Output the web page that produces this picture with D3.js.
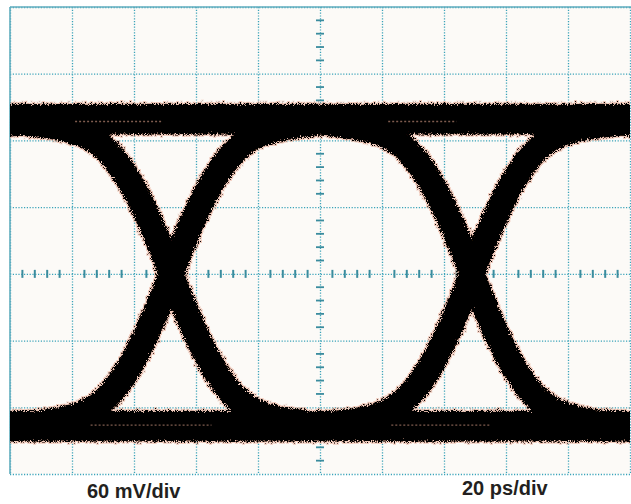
<!DOCTYPE html>
<html>
<head>
<meta charset="utf-8">
<script src="https://cdn.jsdelivr.net/npm/d3@7"></script>
<style>
body { margin: 0; background: #ffffff; }
</style>
</head>
<body>
<script>
// screen: 10 divisions of 20 ps, 60 mV per division
var timeTicks = [0, 20, 40, 60, 80, 100, 120, 140, 160, 180, 200];
var voltTicks = [-180, -120, -60, 0, 60, 120, 180, 240];
var unitLabels = ["60 mV/div", "20 ps/div"];

// eye crossings (ps)
var crossings = [-45, 52, 149, 246];

// edge shape around a crossing: time offset (ps) and level (mV)
var edgeTime    = [-55, -45, -35.5, -29, -24.2, -19.4, -16.1, -12.9, -9.7, -6.5, -3.2, 0, 3.2, 6.5, 9.7, 12.9, 16.1, 19.4, 24.2, 29, 35.5, 45, 55];
var risingEdge  = [-137, -135, -131, -126, -119, -107, -95, -81, -64, -45, -23, 0, 23, 45, 64, 81, 95, 107, 119, 126, 131, 135, 137];
var fallingEdge = [137, 135, 131, 126, 119, 107, 95, 81, 64, 45, 23, 0, -23, -45, -64, -81, -95, -107, -119, -126, -131, -135, -137];

// steady one / zero levels (mV)
var levelHigh = 139;
var levelLow = -137;

// faint streaks inside the level bands: start ps, end ps, mV
var streakStart = [21, 122, 26, 123];
var streakEnd   = [49, 144, 65, 155];
var streakLevel = [137, 137, -136, -136];

function createEyeDiagram(){
    var w = 631, h = 504;
    var left = 10, right = 630, top = 7, bottom = 474;

    var svg = d3.select("body")
                .append("svg")
                .attr("width", w)
                .attr("height", h);

    var x = d3.scaleLinear().domain([0, 200]).range([left, right]);
    var y = d3.scaleLinear().domain([-180, 240]).range([bottom, top]);

    var defs = svg.append("defs");
    defs.append("clipPath")
        .attr("id", "screen")
        .append("rect")
        .attr("x", left).attr("y", top)
        .attr("width", right - left).attr("height", bottom - top);

    // ragged, noisy look of the persistence traces
    var f = defs.append("filter")
                .attr("id", "rough")
                .attr("filterUnits", "userSpaceOnUse")
                .attr("x", 0).attr("y", 0).attr("width", w).attr("height", h);
    f.append("feTurbulence")
        .attr("type", "fractalNoise")
        .attr("baseFrequency", 1.3)
        .attr("numOctaves", 2)
        .attr("seed", 7)
        .attr("result", "noise");
    f.append("feDisplacementMap")
        .attr("in", "SourceGraphic").attr("in2", "noise")
        .attr("scale", 8)
        .attr("xChannelSelector", "R").attr("yChannelSelector", "G")
        .attr("result", "d");
    f.append("feMorphology")
        .attr("in", "d").attr("operator", "dilate").attr("radius", 1)
        .attr("result", "dd");
    f.append("feFlood")
        .attr("flood-color", "#e6a088").attr("flood-opacity", 0.5)
        .attr("result", "c");
    f.append("feComposite")
        .attr("in", "c").attr("in2", "dd").attr("operator", "in")
        .attr("result", "halo");
    var merge = f.append("feMerge");
    merge.append("feMergeNode").attr("in", "halo");
    merge.append("feMergeNode").attr("in", "d");

    // screen background
    svg.append("rect")
        .attr("x", left).attr("y", top)
        .attr("width", right - left).attr("height", bottom - top)
        .attr("fill", "#fcfaf7");

    // dotted graticule
    var gridColor = "#3aa3b9";
    svg.append("g")
        .attr("transform", "translate(0," + bottom + ")")
        .call(d3.axisBottom(x).tickValues(timeTicks).tickSize(bottom - top).tickFormat(""))
        .call(function(g){
            g.select(".domain").remove();
            g.selectAll("line")
                .attr("transform", "translate(0," + (-(bottom - top)) + ")")
                .attr("y2", bottom - top)
                .attr("stroke", gridColor)
                .attr("stroke-width", 1.3)
                .attr("stroke-dasharray", "1.2,1.6");
        });
    svg.append("g")
        .attr("transform", "translate(" + left + ",0)")
        .call(d3.axisRight(y).tickValues(voltTicks).tickSize(right - left).tickFormat(""))
        .call(function(g){
            g.select(".domain").remove();
            g.selectAll("line")
                .attr("stroke", gridColor)
                .attr("stroke-width", 1.3)
                .attr("stroke-dasharray", "1.2,1.6");
        });

    // border: solid left and top edge
    svg.append("line")
        .attr("x1", left).attr("x2", left).attr("y1", top).attr("y2", bottom)
        .attr("stroke", "#62aebf").attr("stroke-width", 1.6);
    svg.append("line")
        .attr("x1", left).attr("x2", right + 1).attr("y1", top).attr("y2", top)
        .attr("stroke", "#62aebf").attr("stroke-width", 1.6);

    // minor ticks on the centre axes
    var tickColor = "#3a8c9e";
    svg.append("g")
        .selectAll("line")
        .data(d3.range(0, 200, 4).filter(function(d){ return d % 20 != 0; }))
        .enter()
        .append("line")
        .attr("x1", function(d){ return x(d); })
        .attr("x2", function(d){ return x(d); })
        .attr("y1", y(0) - 4).attr("y2", y(0) + 4)
        .attr("stroke", tickColor).attr("stroke-width", 2);
    svg.append("g")
        .selectAll("line")
        .data(d3.range(-180, 240, 12).filter(function(d){ return d % 60 != 0; }))
        .enter()
        .append("line")
        .attr("x1", x(100) - 4).attr("x2", x(100) + 4)
        .attr("y1", function(d){ return y(d); })
        .attr("y2", function(d){ return y(d); })
        .attr("stroke", tickColor).attr("stroke-width", 1.8);

    // eye traces
    var line = d3.line()
                 .x(function(d){ return x(d[0]); })
                 .y(function(d){ return y(d[1]); })
                 .curve(d3.curveCatmullRom);

    var traces = [];
    crossings.forEach(function(c){
        traces.push(edgeTime.map(function(t, i){ return [c + t, risingEdge[i]]; }));
        traces.push(edgeTime.map(function(t, i){ return [c + t, fallingEdge[i]]; }));
    });

    var eye = svg.append("g")
                 .attr("clip-path", "url(#screen)")
                 .append("g")
                 .attr("filter", "url(#rough)");

    eye.selectAll("path.level")
        .data([levelHigh, levelLow])
        .enter()
        .append("path")
        .attr("class", "level")
        .attr("d", function(v){ return line([[-10, v], [210, v]]); })
        .attr("fill", "none")
        .attr("stroke", "#000")
        .attr("stroke-width", 31);

    eye.selectAll("path.edge")
        .data(traces)
        .enter()
        .append("path")
        .attr("class", "edge")
        .attr("d", line)
        .attr("fill", "none")
        .attr("stroke", "#000")
        .attr("stroke-width", 26);

    svg.append("g")
        .attr("clip-path", "url(#screen)")
        .selectAll("line")
        .data(streakStart)
        .enter()
        .append("line")
        .attr("x1", function(d){ return x(d); })
        .attr("x2", function(d, i){ return x(streakEnd[i]); })
        .attr("y1", function(d, i){ return y(streakLevel[i]); })
        .attr("y2", function(d, i){ return y(streakLevel[i]); })
        .attr("stroke", "#d49a84")
        .attr("stroke-width", 1.4)
        .attr("stroke-dasharray", "2,2")
        .attr("opacity", 0.6);

    // unit labels
    svg.selectAll("text.unit")
        .data(unitLabels)
        .enter()
        .append("text")
        .attr("class", "unit")
        .attr("x", function(d, i){ return i == 0 ? 87 : 462; })
        .attr("y", function(d, i){ return i == 0 ? 498 : 495; })
        .attr("font-family", "'Liberation Sans', Arial, sans-serif")
        .attr("font-weight", "bold")
        .attr("font-size", 20)
        .attr("fill", "#231f20")
        .text(function(d){ return d; });
}

createEyeDiagram();
</script>
</body>
</html>
